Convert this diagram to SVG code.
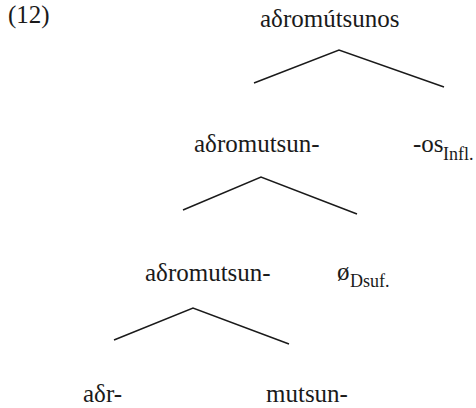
<svg xmlns="http://www.w3.org/2000/svg" width="476" height="408" viewBox="0 0 476 408">
  <style>
    text { font-family: "Liberation Serif", "DejaVu Serif", serif; fill: #1a1a1a; }
    .lbl { font-size: 25px; }
    .sub { font-size: 18px; }
    .edge { stroke: #1a1a1a; stroke-width: 1.5; fill: none; stroke-linecap: butt; }
  </style>
  <rect width="476" height="408" fill="#ffffff"/>

  <text class="lbl" x="8" y="23">(12)</text>

  <!-- tree nodes -->
  <g id="root"><text class="lbl" x="260" y="27">aδromútsunos</text></g>
  <g id="stem1"><text class="lbl" x="194" y="152">aδromutsun-</text></g>
  <g id="infl"><text class="lbl" x="413" y="152">-os</text><text class="sub" x="443" y="160">Infl.</text></g>
  <g id="stem2"><text class="lbl" x="145" y="281">aδromutsun-</text></g>
  <g id="dsuf"><text class="lbl" x="337" y="280">ø</text><text class="sub" x="350" y="287">Dsuf.</text></g>
  <g id="root-adr"><text class="lbl" x="83" y="402">aδr-</text></g>
  <g id="root-mutsun"><text class="lbl" x="266" y="402">mutsun-</text></g>

  <!-- branches -->
  <g id="connectors">
    <polyline class="edge" points="254,83 339,50 444,87"/>
    <polyline class="edge" points="183,210 261,177 357,214"/>
    <polyline class="edge" points="114,340 193,308 289,344"/>
  </g>
</svg>
